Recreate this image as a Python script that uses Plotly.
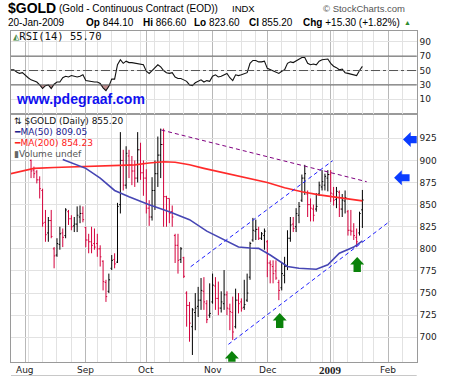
import plotly.graph_objects as go

W, H = 453, 378

# ---------------- data ----------------
bar_start = 2  # index of first visible trading day (trading-day index from 1-Aug-2008)
opens = [900, 889, 887, 878, 866, 830, 818, 832, 800, 793, 805, 818, 815, 842, 834, 826, 828, 836, 840,
         824, 810, 808, 806, 806, 800, 786, 762, 752, 778, 788, 785, 850, 900, 872, 905, 895, 888, 880, 912,
         886, 880, 846, 836, 866, 885, 906, 918, 859, 857, 842, 815, 804, 788, 790, 750, 736, 712, 728, 735,
         742, 752, 738, 725, 740, 758, 744, 733, 738, 748, 732, 728, 712, 742, 740, 734, 742, 768, 810, 820,
         822, 812, 815, 808, 784, 780, 775, 762, 756, 770, 780, 812, 828, 825, 838, 855, 880, 862, 850, 845,
         845, 862, 870, 872, 880, 884, 862, 856, 864, 845, 854, 842, 821, 820, 813, 818, 844.10]
highs = [901, 893, 889, 882, 868, 844, 836, 844, 802, 812, 825, 823, 846, 844, 838, 836, 848, 849, 848,
         825, 817, 825, 823, 817, 804, 787, 765, 772, 793, 795, 852, 932, 912, 916, 912, 905, 900, 932, 920,
         900, 890, 855, 881, 900, 927, 936, 936, 860, 857, 849, 817, 817, 802, 791, 752, 740, 733, 750, 757,
         767, 768, 742, 761, 772, 768, 763, 752, 776, 752, 738, 746, 755, 750, 744, 765, 772, 808, 835, 833,
         825, 819, 823, 810, 787, 787, 787, 765, 784, 791, 821, 836, 836, 846, 853, 884, 895, 866, 857, 850,
         863, 876, 889, 885, 889, 889, 870, 870, 866, 862, 866, 844, 844, 829, 823, 842, 866.60]
lows = [880, 880, 874, 857, 825, 808, 808, 812, 778, 791, 799, 802, 812, 827, 821, 819, 819, 829, 830,
        802, 795, 795, 799, 791, 780, 753, 740, 750, 776, 778, 784, 840, 866, 868, 880, 872, 870, 875, 878,
        860, 840, 826, 832, 844, 870, 880, 825, 825, 829, 825, 784, 772, 784, 767, 712, 695, 680, 708, 723,
        731, 731, 716, 722, 738, 731, 725, 728, 731, 725, 708, 697, 710, 727, 729, 731, 740, 765, 808, 810,
        810, 810, 799, 768, 761, 761, 765, 742, 753, 761, 776, 808, 819, 819, 829, 853, 861, 836, 831, 831,
        842, 860, 866, 866, 865, 853, 849, 846, 836, 836, 840, 815, 815, 810, 802, 815, 823.60]
closes = [888, 885, 878, 868, 829, 816, 832, 814, 792, 806, 817, 813, 844, 834, 825, 828, 838, 840, 833,
          810, 808, 804, 802, 800, 791, 763, 746, 765, 787, 783, 848, 900, 872, 908, 895, 888, 880, 912, 886,
          880, 846, 836, 866, 885, 906, 918, 859, 857, 840, 836, 804, 787, 800, 769, 736, 716, 731, 733, 742,
          753, 740, 720, 727, 759, 744, 733, 740, 748, 733, 729, 706, 742, 738, 733, 737, 750, 806, 821, 822,
          812, 817, 820, 784, 782, 772, 767, 753, 772, 780, 812, 827, 823, 840, 848, 880, 885, 850, 846, 838,
          848, 872, 876, 882, 884, 863, 855, 865, 845, 855, 858, 821, 820, 815, 808, 839.90, 855.20]

ma50_idx = [13, 17, 21, 26, 31, 36, 43, 50, 57, 63, 70, 74, 78, 81, 85, 88, 91, 95, 101, 105, 109, 114, 117]
ma50_val = [901, 896, 891, 880, 866, 859, 850, 842, 833, 820, 808, 802, 801, 800.5, 793, 786, 780, 778,
            777, 782, 795, 802, 809.05]
ma200_idx = [-5, -1, 3, 10, 20, 30, 38, 43, 48, 52, 57, 62, 67, 72, 78, 84, 90, 96, 102, 108, 113, 117]
ma200_val = [885, 888, 891, 892, 893, 893.5, 895, 897, 898.5, 898, 895, 891, 887.5, 883.5, 879, 875, 869, 864.5,
             861, 858.5, 856, 854.23]

rsi_start = -5
rsi = [51, 51, 48, 46, 47, 43, 40, 37, 35, 34, 30, 25, 29, 30, 25, 31, 34, 34, 40, 42, 41, 43, 42, 41, 42, 44,
       36, 35, 35, 34, 34, 32, 26, 22, 28, 38, 38, 58, 65, 60, 63, 61, 61, 60, 60, 59, 58, 49, 46, 50, 54, 58,
       55, 50, 47, 46, 47, 41, 39, 39, 37, 35, 30, 29, 33, 35, 37, 34, 36, 35, 42, 44, 41, 42, 44, 46, 40, 36,
       44, 43, 44, 46, 47, 60, 64, 64, 62, 62, 63, 53, 51, 50, 48, 46, 49, 51, 60, 62, 61, 63, 65, 68, 68, 60,
       58, 59, 58, 63, 65, 65, 66, 60, 56, 54, 51, 52, 47, 46, 45, 44, 43, 50, 55.70]

# trend lines (trading-day index, price)
purple_x, purple_y = [47.2, 118.5], [934.4, 875.9]
chan_up_x, chan_up_y = [57.4, 106.7], [779.8, 899.7]
chan_lo_x, chan_lo_y = [70.5, 126.6], [692.0, 831.4]
green_arrow_x, green_arrow_y = [71.7, 88.3, 115.2], [684.4, 727.5, 790.8]
blue_arrow_x, blue_arrow_y = [131.1, 128.0], [923.6, 880.4]

month_pos = [0, 21, 42, 65, 84, 106, 126]
month_txt = ["Aug", "Sep", "Oct", "Nov", "Dec", "2009", "Feb"]
week_pos = [1, 6, 11, 16, 25, 30, 35, 40, 45, 50, 55, 60, 70, 75, 80, 89, 94, 99, 103, 107, 112, 117, 121, 131]
price_ticks = [700, 725, 750, 775, 800, 825, 850, 875, 900, 925]
rsi_ticks = [10, 30, 50, 70, 90]

# ---------------- layout helpers ----------------
def fx(p):
    return p / W

def fy(p):
    return 1 - p / H

X_DOM = [fx(11), fx(416.7)]
P_DOM = [fy(361.7), fy(113.5)]
R_DOM = [fy(113.5), fy(30.7)]
X_RANGE = [-4.96, 135.85]

BLACK = "#000000"
RED = "#d4003c"
GRID = "#e2e2e2"
MONTH_GRID = "#b8b8b8"
FRAME = "#9a9a9a"

fig = go.Figure()

# ---------------- OHLC bars (coloured vs previous close) ----------------
segs = {BLACK: ([], []), RED: ([], [])}
for k in range(len(closes)):
    xi = bar_start + k
    prev = closes[k - 1] if k > 0 else opens[k]
    col = BLACK if closes[k] >= prev else RED
    xs, ys = segs[col]
    xs += [xi, xi, None, xi - 0.42, xi, None, xi, xi + 0.42, None]
    ys += [lows[k], highs[k], None, opens[k], opens[k], None, closes[k], closes[k], None]
for col, (xs, ys) in segs.items():
    fig.add_trace(go.Scatter(x=xs, y=ys, mode="lines", line=dict(color=col, width=1),
                             hoverinfo="skip", showlegend=False, xaxis="x", yaxis="y"))

# moving averages
fig.add_trace(go.Scatter(x=ma200_idx, y=ma200_val, mode="lines", line=dict(color="#ff2a2a", width=1.6),
                         showlegend=False, xaxis="x", yaxis="y"))
fig.add_trace(go.Scatter(x=ma50_idx, y=ma50_val, mode="lines", line=dict(color="#4646b4", width=1.6),
                         showlegend=False, xaxis="x", yaxis="y"))

# trend lines
for xs, ys, col in [(purple_x, purple_y, "#800080"), (chan_up_x, chan_up_y, "#1f1fff"),
                    (chan_lo_x, chan_lo_y, "#1f1fff")]:
    fig.add_trace(go.Scatter(x=xs, y=ys, mode="lines", line=dict(color=col, width=1, dash="4px,3px"),
                             showlegend=False, xaxis="x", yaxis="y"))

# ---------------- RSI ----------------
rsi_x = list(range(rsi_start, rsi_start + len(rsi)))
fig.add_trace(go.Scatter(x=rsi_x, y=[30] * len(rsi), mode="lines", line=dict(width=0),
                         showlegend=False, xaxis="x2", yaxis="y2", hoverinfo="skip"))
fig.add_trace(go.Scatter(x=rsi_x, y=[min(v, 30) for v in rsi], mode="lines", line=dict(width=0),
                         fill="tonexty", fillcolor="#c29191", showlegend=False, xaxis="x2", yaxis="y2",
                         hoverinfo="skip"))
fig.add_trace(go.Scatter(x=rsi_x, y=rsi, mode="lines", line=dict(color="#111111", width=1.1),
                         showlegend=False, xaxis="x2", yaxis="y2"))

shapes = []
for lvl, dash, col in [(70, "solid", "#5a5a5a"), (30, "solid", "#5a5a5a"), (50, "dashdot", "#555555")]:
    shapes.append(dict(type="line", xref="x2 domain", yref="y2", x0=0, x1=1, y0=lvl, y1=lvl,
                       line=dict(color=col, width=1, dash=dash)))

# arrows (pixel-sized paths anchored at data points)
for ax_, ay_ in zip(green_arrow_x, green_arrow_y):
    shapes.append(dict(type="path", xref="x", yref="y", xsizemode="pixel", ysizemode="pixel",
                       xanchor=ax_, yanchor=ay_,
                       path="M0,0 L7,-7.5 L3.7,-7.5 L3.7,-15 L-3.7,-15 L-3.7,-7.5 L-7,-7.5 Z",
                       fillcolor="#0a820a", line=dict(width=0)))
for ax_, ay_ in zip(blue_arrow_x, blue_arrow_y):
    shapes.append(dict(type="path", xref="x", yref="y", xsizemode="pixel", ysizemode="pixel",
                       xanchor=ax_, yanchor=ay_,
                       path="M0,0 L7.7,7.5 L7.7,3.6 L15.5,3.6 L15.5,-3.6 L7.7,-3.6 L7.7,-7.5 Z",
                       fillcolor="#0a3cff", line=dict(width=0)))
# bottom frame line
shapes.append(dict(type="line", xref="paper", yref="paper", x0=fx(11), x1=fx(416.7), y0=fy(375.5),
                   y1=fy(375.5), line=dict(color="#c8c8c8", width=1)))

# ---------------- texts ----------------
ann = []

def txt(x, y, s, size=10, color="#000", family="Liberation Sans", xanchor="left", bg=None):
    d = dict(x=fx(x), y=fy(y), xref="paper", yref="paper", text=s, showarrow=False, xanchor=xanchor,
             yanchor="middle", font=dict(size=size, color=color, family=family))
    if bg:
        d["bgcolor"] = bg
    ann.append(d)

txt(6, 8, "<b>$GOLD</b>", 14)
txt(57, 8.5, "(Gold - Continuous Contract (EOD))", 10)
txt(230, 8.5, "INDX", 9.5)
txt(407, 8.5, "© StockCharts.com", 9.5, "#555555", xanchor="right")

last = len(closes) - 1
chg = closes[last] - closes[last - 1]
txt(6, 23, "20-Jan-2009", 10)
txt(84, 23, f"<b>Op</b> {opens[last]:.2f}", 10)
txt(141, 23, f"<b>Hi</b> {highs[last]:.2f}", 10)
txt(192, 23, f"<b>Lo</b> {lows[last]:.2f}", 10)
txt(247, 23, f"<b>Cl</b> {closes[last]:.2f}", 10)
txt(301, 23, f"<b>Chg</b> +{chg:.2f} (+{chg / closes[last - 1] * 100:.2f}%)", 10)
txt(402, 22.5, "▲", 7, "#2e8b2e")

txt(11, 36, "<span style='color:#4a8a4a'>◭</span>RSI(14) %.2f" % rsi[-1], 10.5, "#111", "DejaVu Sans Mono")
txt(14, 98.5, "<b>www.pdegraaf.com</b>", 14, "#1010f0")

txt(12, 121, f"⇅ $GOLD (Daily) {closes[last]:.2f}", 9, "#111", "DejaVu Sans")
txt(12, 132, f"<span style='color:#202090'>━</span>MA(50) {ma50_val[-1]:.2f}", 9, "#202090", "DejaVu Sans")
txt(12, 143, f"<span style='color:#ff2020'>━</span>MA(200) {ma200_val[-1]:.2f}", 9, "#ff2020", "DejaVu Sans")
txt(12, 153.5, "<span style='color:#666'>▮</span>Volume undef", 9, "#555555", "DejaVu Sans")

# month labels under the price panel
for mp, mt in zip(month_pos, month_txt):
    bold = mt.isdigit()
    ann.append(dict(x=mp, y=fy(369.5), xref="x", yref="paper", text=f"<b>{mt}</b>" if bold else mt,
                    showarrow=False, xanchor="center", yanchor="middle",
                    font=dict(size=11 if bold else 9, color="#222",
                              family="Liberation Serif" if bold else "DejaVu Sans")))

axis_common = dict(range=X_RANGE, domain=X_DOM, showline=True, mirror=True, linecolor=FRAME, linewidth=1,
                   tickmode="array", tickvals=month_pos, showgrid=True, gridcolor=MONTH_GRID, gridwidth=1,
                   ticks="", zeroline=False, showticklabels=False,
                   minor=dict(tickmode="array", tickvals=week_pos, showgrid=True, gridcolor=GRID, gridwidth=1,
                              ticks=""))

fig.update_layout(
    width=W, height=H, margin=dict(l=0, r=0, t=0, b=0), paper_bgcolor="white", plot_bgcolor="white",
    showlegend=False,
    xaxis=dict(**axis_common, anchor="y"),
    yaxis=dict(domain=P_DOM, range=[672.4, 953.04], side="right", tickvals=price_ticks, showgrid=True,
               gridcolor=GRID, showline=True, mirror=True, linecolor=FRAME, ticks="", zeroline=False,
               tickfont=dict(family="DejaVu Sans", size=9, color="#222"), anchor="x"),
    xaxis2=dict(**axis_common, anchor="y2"),
    yaxis2=dict(domain=R_DOM, range=[-9.7, 105.3], side="right", tickvals=rsi_ticks, showgrid=True,
                gridcolor=GRID, showline=True, mirror=True, linecolor=FRAME, ticks="", zeroline=False,
                tickfont=dict(family="DejaVu Sans", size=9, color="#222"), anchor="x2"),
    shapes=shapes, annotations=ann,
)

fig.write_html("out.html", config={"displayModeBar": False},
               post_script="document.body.style.margin='0';document.body.style.padding='0';")
